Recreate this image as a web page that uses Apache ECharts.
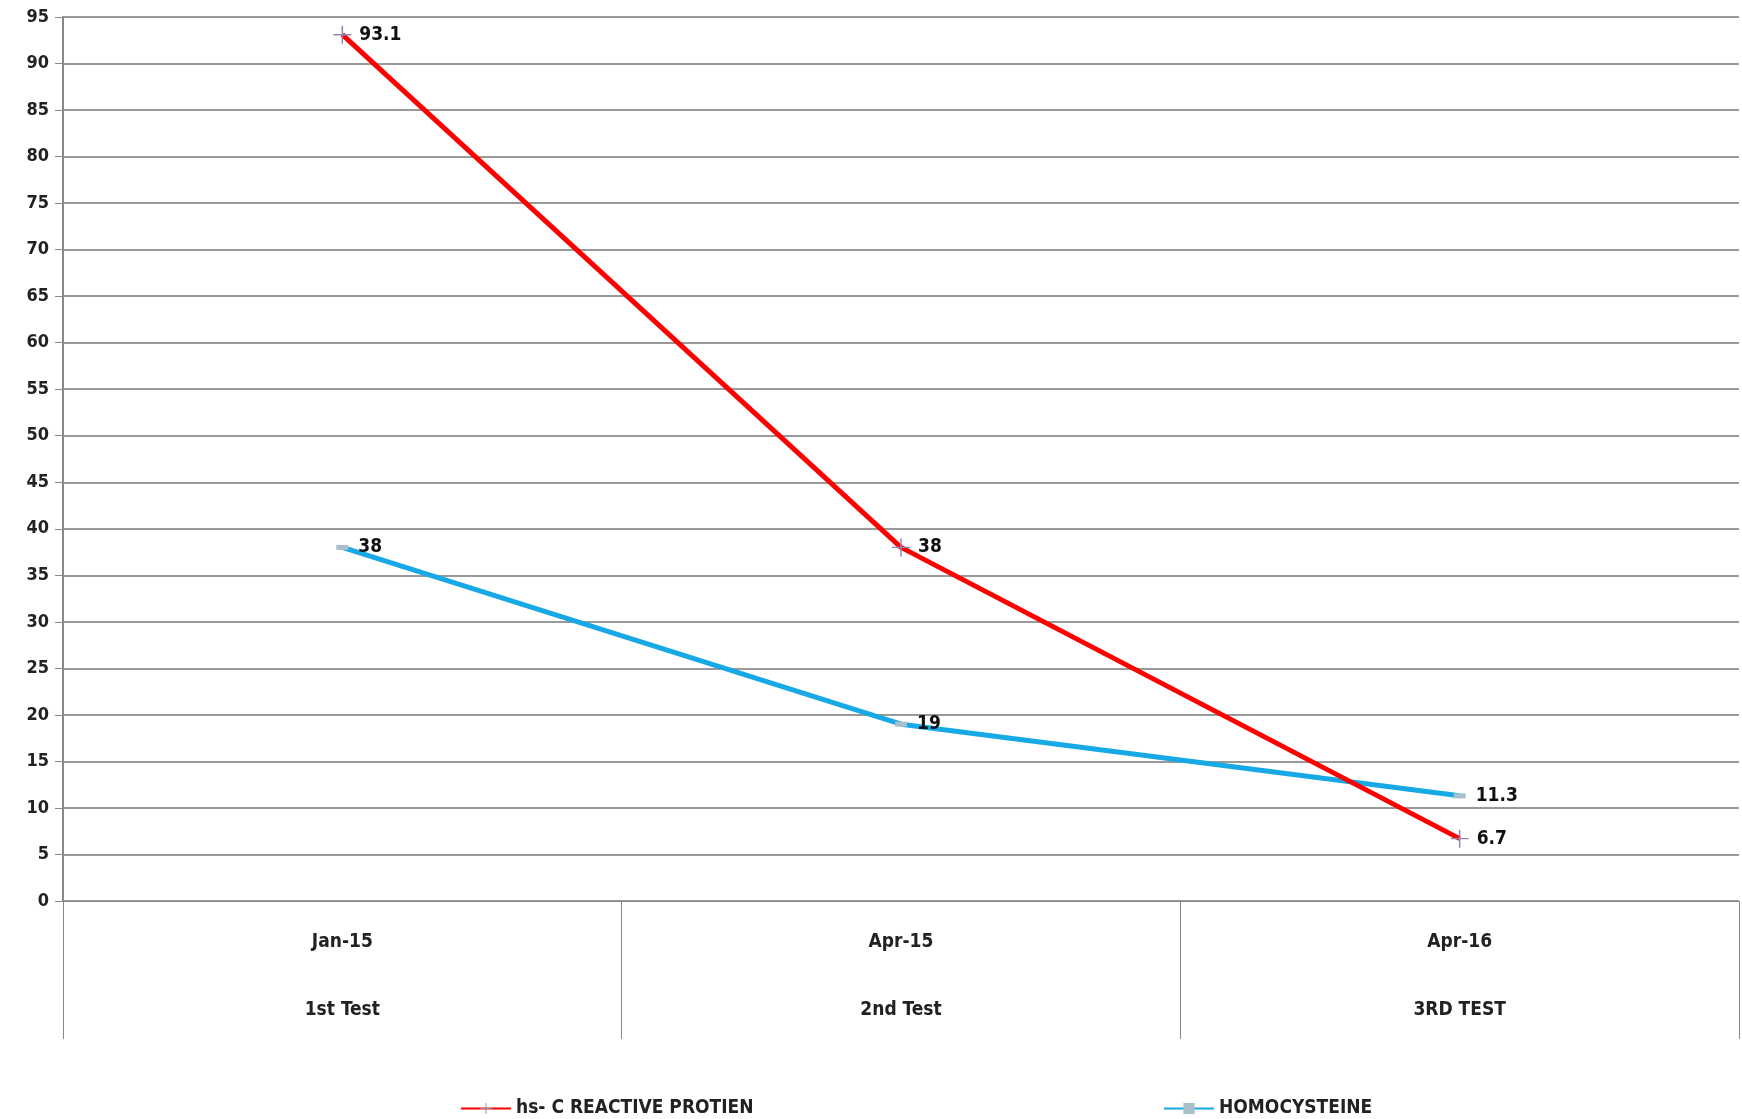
<!DOCTYPE html>
<html>
<head>
<meta charset="utf-8">
<script src="https://cdn.jsdelivr.net/npm/echarts@6/dist/echarts.min.js"></script>
<style>html,body{margin:0;padding:0;background:#fff}#chart{width:1742px;height:1119px}</style>
</head>
<body>
<div id="chart"></div>
<script>
// 数据
var dates = ['Jan-15', 'Apr-15', 'Apr-16'];
var tests = ['1st Test', '2nd Test', '3RD TEST'];
var crp = [93.1, 38, 6.7];
var homocysteine = [38, 19, 11.3];

var chart = echarts.init(document.getElementById('chart'));
var font = 'DejaVu Sans Condensed';
var plus = 'path://M0,4.6 L10,4.6 L10,5.4 L0,5.4 Z M4.6,0 L5.4,0 L5.4,10 L4.6,10 Z';
var txt = { fontFamily: font, fontSize: 19, fontWeight: 'bold', color: '#222' };

var option = {
    animation: false,
    grid: { left: 63, right: 3, top: 17, bottom: 218 },
    legend: [{
        data: ['hs- C REACTIVE PROTIEN'],
        left: 455, top: 1094,
        itemWidth: 50, itemHeight: 14, itemGap: 2,
        textStyle: txt
    }, {
        data: ['HOMOCYSTEINE'],
        left: 1158, top: 1094,
        itemWidth: 50, itemHeight: 14,
        textStyle: txt
    }],
    xAxis: [{
        type: 'category',
        data: dates,
        boundaryGap: true,
        axisLine: { lineStyle: { color: '#888', width: 1 } },
        axisTick: { show: true, length: 138, lineStyle: { color: '#888' } },
        axisLabel: Object.assign({ margin: 32 }, txt)
    }, {
        type: 'category',
        data: tests,
        position: 'bottom',
        boundaryGap: true,
        axisLine: { show: false },
        axisTick: { show: false },
        axisLabel: Object.assign({ margin: 100 }, txt)
    }],
    yAxis: {
        type: 'value',
        min: 0, max: 95, interval: 5,
        axisLine: { show: true, lineStyle: { color: '#888', width: 2 } },
        axisTick: { show: true, length: 8, lineStyle: { color: '#888' } },
        axisLabel: Object.assign({ margin: 14 }, txt, { fontSize: 18 }),
        splitLine: { lineStyle: { color: '#999', width: 2 } }
    },
    series: [{
        name: 'hs- C REACTIVE PROTIEN',
        type: 'line',
        data: crp,
        color: '#ff0000',
        lineStyle: { width: 5, color: '#ff0000' },
        symbol: plus,
        symbolSize: 18,
        itemStyle: { color: '#8d86b0' },
        label: Object.assign({ show: true, position: 'right', distance: 8 }, txt, { color: '#111' }),
        z: 3
    }, {
        name: 'HOMOCYSTEINE',
        type: 'line',
        data: homocysteine,
        color: '#17a9e6',
        lineStyle: { width: 5, color: '#17a9e6' },
        symbol: 'rect',
        symbolSize: [12, 5],
        itemStyle: { color: '#a9bfcc' },
        label: Object.assign({ show: true, position: 'right', distance: 10 }, txt, { color: '#111' }),
        z: 2
    }]
};
chart.setOption(option);
</script>
</body>
</html>
